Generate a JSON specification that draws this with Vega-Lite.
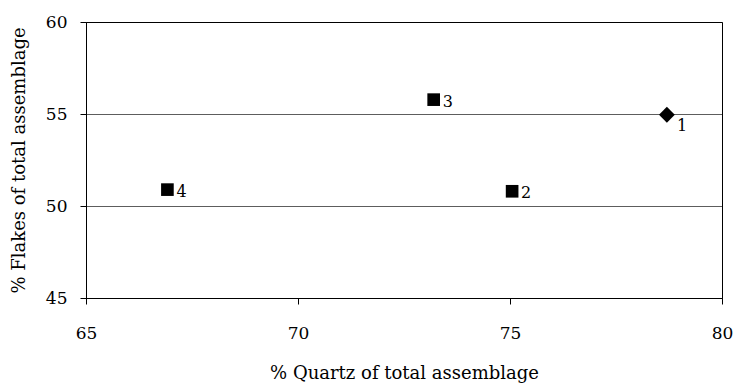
{
  "$schema": "https://vega.github.io/schema/vega-lite/v6.json",
  "autosize": "none",
  "width": 636,
  "height": 276,
  "padding": {"left": 86, "top": 22, "right": 13, "bottom": 87},
  "background": "white",
  "config": {
    "view": {"stroke": "black", "strokeWidth": 1},
    "font": "DejaVu Serif",
    "axis": {
      "labelFont": "DejaVu Serif",
      "titleFont": "DejaVu Serif",
      "labelFontSize": 17,
      "titleFontSize": 18,
      "titleFontWeight": "normal",
      "labelColor": "black",
      "titleColor": "black",
      "domainColor": "black",
      "tickColor": "black",
      "gridColor": "black",
      "gridOpacity": 0.8,
      "gridWidth": 0.8
    }
  },
  "data": {
    "values": [
      {"id": "1", "quartz": 78.7, "flakes": 54.96, "type": "diamond"},
      {"id": "2", "quartz": 75.05, "flakes": 50.8, "type": "square"},
      {"id": "3", "quartz": 73.2, "flakes": 55.78, "type": "square"},
      {"id": "4", "quartz": 66.92, "flakes": 50.89, "type": "square"}
    ]
  },
  "encoding": {
    "x": {
      "field": "quartz",
      "type": "quantitative",
      "scale": {"domain": [65, 80], "nice": false, "zero": false},
      "axis": {
        "title": "% Quartz of total assemblage",
        "values": [65, 70, 75, 80],
        "grid": false,
        "tickSize": 6,
        "labelPadding": 21,
        "titlePadding": 23,
        "labelFlush": false
      }
    },
    "y": {
      "field": "flakes",
      "type": "quantitative",
      "scale": {"domain": [45, 60], "nice": false, "zero": false},
      "axis": {
        "title": "% Flakes of total assemblage",
        "values": [45, 50, 55, 60],
        "grid": true,
        "tickSize": 6,
        "labelPadding": 13,
        "titlePadding": 17
      }
    }
  },
  "layer": [
    {
      "mark": {"type": "point", "filled": true, "color": "black", "opacity": 1},
      "encoding": {
        "shape": {"field": "type", "type": "nominal", "scale": null, "legend": null},
        "size": {"condition": {"test": "datum.type === 'diamond'", "value": 250}, "value": 160}
      }
    },
    {
      "transform": [{"filter": "datum.id !== '1'"}],
      "mark": {"type": "text", "align": "left", "baseline": "middle", "dx": 9, "dy": 2, "fontSize": 16, "font": "DejaVu Serif", "color": "black"},
      "encoding": {"text": {"field": "id"}}
    },
    {
      "transform": [{"filter": "datum.id === '1'"}],
      "mark": {"type": "text", "align": "left", "baseline": "middle", "dx": 10, "dy": 11, "fontSize": 16, "font": "DejaVu Serif", "color": "black"},
      "encoding": {"text": {"field": "id"}}
    }
  ]
}
